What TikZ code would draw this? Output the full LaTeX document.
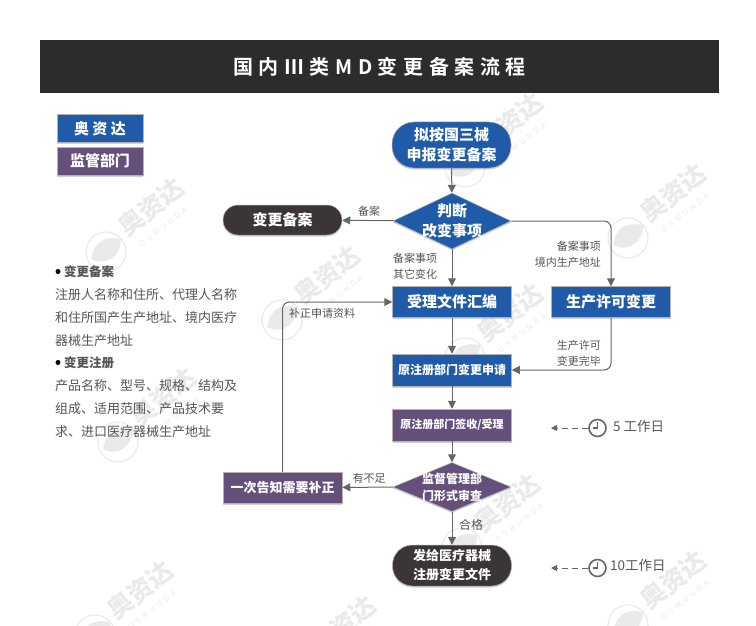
\documentclass[tikz,border=0pt]{standalone}
\usepackage{fontspec}
\setmainfont{Noto Sans CJK SC}
\usetikzlibrary{arrows.meta,shapes.geometric,shadows}
\definecolor{barcol}{HTML}{2D2C2C}
\definecolor{bluecol}{HTML}{1F5BA8}
\definecolor{purplecol}{HTML}{64507A}
\definecolor{darkcol}{HTML}{3C3535}
\definecolor{linecol}{HTML}{666666}
\definecolor{textcol}{HTML}{555555}
\definecolor{markcol}{HTML}{EAEAEA}
\newfontfamily\titlefont[LetterSpace=28,BoldFont=* Bold]{Noto Sans CJK SC}
\newfontfamily\markfont[LetterSpace=40]{Noto Sans CJK SC}
\tikzset{
  boxbase/.style={text=white, font=\fontsize{15}{20}\selectfont\bfseries, align=center, inner sep=0pt,
    draw=white!70!black, line width=0.5pt, drop shadow={shadow xshift=0pt, shadow yshift=-1.5pt, fill=black!35}},
  rectbox/.style={boxbase, rectangle, minimum width=119pt, minimum height=31pt},
  pill/.style={boxbase, rectangle, rounded corners=15pt, minimum width=119pt},
  judge/.style={boxbase, diamond, aspect=2.1, minimum width=118pt, minimum height=56pt},
  note/.style={text=textcol, font=\fontsize{11}{16}\selectfont, inner sep=0pt},
  side/.style={text=textcol, font=\fontsize{13}{23}\selectfont, inner sep=0pt, anchor=west},
  flow/.style={draw=linecol, line width=1pt, -{Triangle[length=8pt,width=8pt]}},
  clockface/.style={circle, draw=linecol, line width=1.6pt, minimum size=17pt, inner sep=0pt},
  wmtext/.style={text=markcol, rotate=38, inner sep=0pt},
}
\begin{document}
\begin{tikzpicture}[x=1pt,y=-1pt]
  \useasboundingbox (0,0) rectangle (756,626);

  % watermarks
  \foreach \wx/\wy [count=\wi] in {151/207,327/275,510/122,673/193,510/313,163/397,507/503,673/580,343/625,140/590}{
    \node[wmtext, font=\fontsize{25}{25}\selectfont\bfseries] (wmname\wi) at (\wx,\wy) {奥资达};
    \node[wmtext, font=\fontsize{8}{8}\selectfont\markfont] (wmsub\wi) at (\wx+12,\wy+20) {OSMUNDA};
    \node[circle, draw=markcol, line width=1.2pt, minimum size=40pt, inner sep=0pt] (wmring\wi) at (\wx-45,\wy+45) {};
    \fill[markcol] (\wx-60,\wy+52) .. controls (\wx-56,\wy+30) and (\wx-42,\wy+30) .. (\wx-30,\wy+32)
      .. controls (\wx-30,\wy+50) and (\wx-46,\wy+60) .. (\wx-60,\wy+52);
  }

  % title
  \node[fill=barcol, minimum width=679pt, minimum height=53pt, inner sep=0pt, text=white] (title) at (379.5,66.5)
    {\titlefont\fontsize{20}{24}\selectfont\bfseries 国内Ⅲ类MD变更备案流程};

  % legend
  \node[rectbox, fill=bluecol, minimum width=86pt, minimum height=28pt] (legblue) at (100,128.5) {奥 资 达};
  \node[rectbox, fill=purplecol, minimum width=86pt, minimum height=28pt] (legpurple) at (100,161) {监管部门};

  % flow nodes
  \node[pill, fill=bluecol, rounded corners=22pt, minimum height=46pt] (start) at (451.5,145) {拟按国三械\\申报变更备案};
  \node[judge, fill=bluecol, label={[text=white, font=\fontsize{15}{20}\selectfont\bfseries, align=center]center:判断\\改变事项}] (judge) at (452,221) {};
  \node[pill, fill=darkcol, minimum height=30pt] (record) at (282.5,220) {变更备案};
  \node[rectbox, fill=bluecol] (collect) at (452,302) {受理文件汇编};
  \node[rectbox, fill=bluecol] (licence) at (611,302) {生产许可变更};
  \node[rectbox, fill=bluecol, minimum height=32pt, font=\fontsize{12}{16}\selectfont\bfseries] (apply) at (452,370) {原注册部门变更申请};
  \node[rectbox, fill=purplecol, minimum height=32pt, font=\fontsize{11}{16}\selectfont\bfseries] (receive) at (452,425) {原注册部门签收/受理};
  \node[judge, fill=purplecol, minimum height=49pt, label={[text=white, font=\fontsize{12}{17}\selectfont\bfseries, align=center]center:监督管理部\\门形式审查}] (review) at (452,487) {};
  \node[rectbox, fill=purplecol, font=\fontsize{13}{16}\selectfont\bfseries] (notify) at (282.5,487.5) {一次告知需要补正};
  \node[pill, fill=darkcol, rounded corners=20pt, minimum height=41pt, font=\fontsize{13}{19}\selectfont\bfseries] (issue) at (452,565.5) {发给医疗器械\\注册变更文件};

  % connectors
  \draw[flow] (start) -- (judge);
  \draw[flow] (judge) -- (record);
  \draw[flow] (judge) -- (collect);
  \draw[flow, rounded corners=7pt] (judge.east) -| (licence.north);
  \draw[flow] (collect) -- (apply);
  \draw[flow, rounded corners=7pt] (licence.south) |- (apply.east);
  \draw[flow] (apply) -- (receive);
  \draw[flow] (receive) -- (review);
  \draw[flow] (review) -- (notify);
  \draw[flow] (review) -- (issue);
  \draw[flow, rounded corners=7pt] (notify.north) |- (collect.west);

  % connector labels
  \node[note] (lblrecord) at (369,211) {备案};
  \node[note, anchor=west, align=left] (lblother) at (393,266) {备案事项\\其它变化};
  \node[note, anchor=east, align=right] (lbladdr) at (601,254) {备案事项\\境内生产地址};
  \node[note, anchor=east, align=left] (lbldone) at (601,353) {生产许可\\变更完毕};
  \node[note] (lblsupply) at (322,313) {补正申请资料};
  \node[note] (lbllack) at (369,478) {有不足};
  \node[note, font=\fontsize{12}{16}\selectfont] (lblpass) at (471,525) {合格};

  % clocks
  \foreach \cname/\cy in {clocka/428,clockb/568}{
    \node[clockface] (\cname) at (597.5,\cy) {};
    \draw[linecol, line width=1.4pt] (\cname.center) -- ++(0,-6) (\cname.center) -- ++(-5,0);
    \coordinate (\cname end) at (551,\cy);
    \draw[linecol, line width=0.9pt, dash pattern=on 6pt off 4pt, -{Triangle[length=6pt,width=6pt]}] (\cname) -- (\cname end);
  }
  \node[font=\fontsize{13.5}{16}\selectfont, text=textcol, anchor=west, inner sep=0pt] (dayfive) at (613,426) {5 工作日};
  \node[font=\fontsize{13.5}{16}\selectfont, text=textcol, anchor=west, inner sep=0pt] (dayten) at (610,565) {10工作日};

  % side notes
  \node[circle, fill=black, minimum size=5pt, inner sep=0pt] (dota) at (58,271.5) {};
  \node[side, font=\fontsize{12.5}{16}\selectfont\bfseries] (heada) at (64,272) {变更备案};
  \node[side] (texta1) at (55,295) {注册人名称和住所、代理人名称};
  \node[side] (texta2) at (55,318) {和住所国产生产地址、境内医疗};
  \node[side] (texta3) at (55,341) {器械生产地址};
  \node[circle, fill=black, minimum size=5pt, inner sep=0pt] (dotb) at (58,362.5) {};
  \node[side, font=\fontsize{12.5}{16}\selectfont\bfseries] (headb) at (64,363) {变更注册};
  \node[side] (textb1) at (55,386) {产品名称、型号、规格、结构及};
  \node[side] (textb2) at (55,409) {组成、适用范围、产品技术要};
  \node[side] (textb3) at (55,432) {求、进口医疗器械生产地址};
\end{tikzpicture}
\end{document}
